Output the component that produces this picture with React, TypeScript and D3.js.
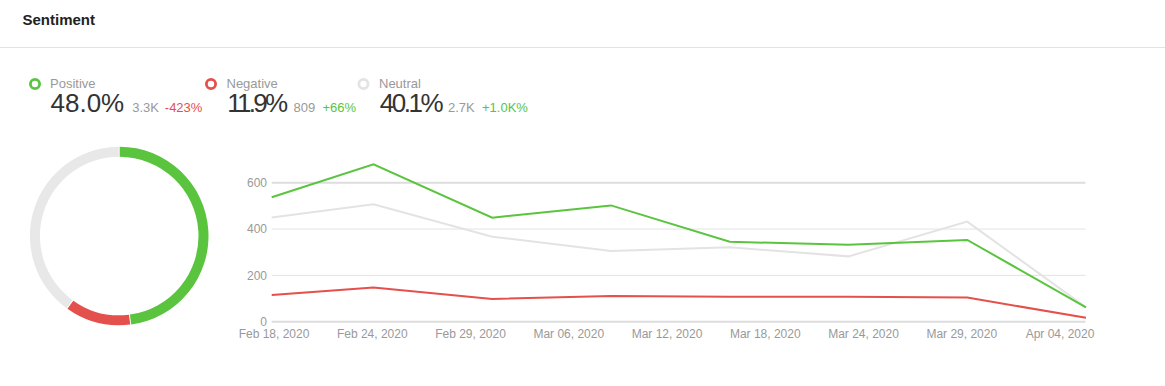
import React from "react";
import * as d3 from "d3";

const seriesNames = ["Positive", "Negative", "Neutral"];
const seriesColors = ["#5ac43f", "#e4504b", "#e3e3e3"];
const sharePct = [48.0, 11.9, 40.1];
const shareLabels = ["48.0%", "11.9%", "40.1%"];
const countLabels = ["3.3K", "809", "2.7K"];
const changeLabels = ["-423%", "+66%", "+1.0K%"];
const changeColors = ["#e4504b", "#5ac43f", "#5ac43f"];

const pointDates = ["2020-02-18", "2020-02-24", "2020-03-02", "2020-03-09", "2020-03-16", "2020-03-23", "2020-03-30", "2020-04-06"];
const positiveValues = [537, 679, 449, 502, 345, 332, 353, 62];
const negativeValues = [115, 148, 98, 111, 108, 108, 104, 17];
const neutralValues = [450, 507, 367, 305, 321, 282, 432, 62];

const xTickLabels = ["Feb 18, 2020", "Feb 24, 2020", "Feb 29, 2020", "Mar 06, 2020", "Mar 12, 2020", "Mar 18, 2020", "Mar 24, 2020", "Mar 29, 2020", "Apr 04, 2020"];
const yTicks = [0, 200, 400, 600];

const W = 1165;
const H = 386;
const FONT = "Arial, 'Liberation Sans', Helvetica, sans-serif";

// legend layout (x positions of each legend group's parts)
const legendLayout = [
  { icon: 35, label: 50, big: 50.5, bigLen: 0, count: 132.2, change: 164.8 },
  { icon: 211, label: 226.5, big: 227.2, bigLen: 61, count: 293.5, change: 322.5 },
  { icon: 363.5, label: 379, big: 379.7, bigLen: 64, count: 448, change: 482 },
];

export default function App() {
  const parse = d3.timeParse("%Y-%m-%d");
  const dates = pointDates.map((d) => parse(d) as Date);
  const x = d3.scaleTime().domain([dates[0], dates[dates.length - 1]]).range([271.7, 1086]);
  const y = d3.scaleLinear().domain([0, 600]).range([321.7, 182.7]);
  const xLabel = d3.scalePoint<string>().domain(xTickLabels).range([274, 1060]);

  const series = [positiveValues, negativeValues, neutralValues];
  const line = d3
    .line<number>()
    .x((_, i) => x(dates[i]))
    .y((v) => y(v));

  const pie = d3.pie<number>().sort(null).padAngle(0.008)(sharePct);
  const arc = d3.arc<d3.PieArcDatum<number>>().innerRadius(79.3).outerRadius(89.3);
  const donutColors = ["#5ac43f", "#e4504b", "#e8e8e8"];

  return (
    <svg
      width={W}
      height={H}
      style={{ position: "absolute", left: 0, top: 0, background: "#fff" }}
      fontFamily={FONT}
    >
      <rect x={0} y={0} width={W} height={H} fill="#fff" />
      <text x={22.5} y={25} fontSize={15} fontWeight="bold" fill="#222">
        Sentiment
      </text>
      <line x1={0} x2={W} y1={47.5} y2={47.5} stroke="#e2e2e2" strokeWidth={1} />

      {seriesNames.map((name, i) => {
        const L = legendLayout[i];
        return (
          <g key={name}>
            <circle cx={L.icon} cy={84} r={4.6} fill="none" stroke={seriesColors[i]} strokeWidth={2.8} />
            <text x={L.label} y={88} fontSize={13} fill="#999">
              {name}
            </text>
            <text
              x={L.big}
              y={111.7}
              fontSize={26}
              fill="#333"
              {...(L.bigLen ? { textLength: L.bigLen, lengthAdjust: "spacing" } : {})}
            >
              {shareLabels[i]}
            </text>
            <text x={L.count} y={111.7} fontSize={13} fill="#999">
              {countLabels[i]}
            </text>
            <text x={L.change} y={111.7} fontSize={13} fill={changeColors[i]}>
              {changeLabels[i]}
            </text>
          </g>
        );
      })}

      <g transform="translate(119.2,236)">
        {pie.map((p, i) => (
          <path key={i} d={arc(p) as string} fill={donutColors[i]} />
        ))}
      </g>

      {yTicks.map((t) => {
        const edge = t === 0 || t === 600;
        return (
          <g key={t}>
            <line
              x1={271.7}
              x2={1085.5}
              y1={y(t)}
              y2={y(t)}
              stroke={edge ? "#dddddd" : "#e3e3e3"}
              strokeWidth={edge ? 2 : 1}
            />
            <text x={267} y={y(t)} dy="0.35em" textAnchor="end" fontSize={12} fill="#999">
              {t}
            </text>
          </g>
        );
      })}

      {xTickLabels.map((l) => (
        <text key={l} x={xLabel(l)} y={337.5} textAnchor="middle" fontSize={12} fill="#999">
          {l}
        </text>
      ))}

      {[2, 0, 1].map((si) => (
        <path
          key={si}
          d={line(series[si]) as string}
          fill="none"
          stroke={seriesColors[si]}
          strokeWidth={2}
          strokeLinejoin="miter"
        />
      ))}
    </svg>
  );
}
